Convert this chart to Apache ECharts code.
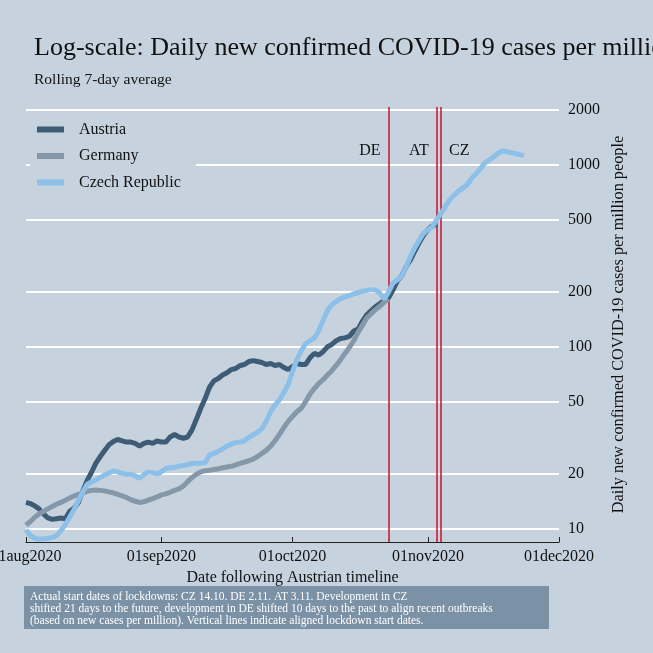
<!DOCTYPE html>
<html><head><meta charset="utf-8">
<script src="https://cdn.jsdelivr.net/npm/echarts@6/dist/echarts.min.js"></script>
<style>html,body{margin:0;padding:0;background:#c6d3df}#c{width:653px;height:653px}</style>
</head><body><div id="c"></div>
<script>
// Daily values (rolling 7-day avg), first value = 01aug2020
const startDate = '2020-08-01';
const austria = [14.0,13.8,13.4,12.9,12.1,11.5,11.3,11.4,11.5,11.4,
  12.5,13.0,14.0,16.2,18.5,20.5,23,25,27,29,
  30.2,31,30.5,30,30,29.5,28.5,29.5,30,29.5,
  30.5,30,30,32,33,32,31.5,32,35,40,
  46,52,60,65,67,70,72,75,76,79,
  80,83,84,83,82,80,81,79,80,77,
  75,78,81,80,80,87,92,90,94,100,
  103,108,111,112,114,122,125,138,150,158,
  166,173,180,186,205,230,245,275,300,335,
  372,410,440,460,470];
const germany = [10.5,11.0,11.6,12.1,12.5,12.9,13.3,13.7,14.0,14.4,
  14.8,15.2,15.5,15.8,16.1,16.3,16.4,16.3,16.2,16.0,
  15.8,15.5,15.2,14.9,14.5,14.2,14.0,14.1,14.4,14.7,
  15.0,15.4,15.6,15.9,16.3,16.6,17.2,18.2,19.2,20.0,
  20.6,20.9,21.0,21.2,21.4,21.7,21.9,22.1,22.5,22.9,
  23.3,23.7,24.2,25.0,26.0,27.0,28.5,30.5,33,36,
  39,41.5,44,46,50,55,59,63,66,70,
  74,79,85,92,99,108,120,131,144,152,
  160,167,176,183];
const czech = [9.9,9.2,8.9,8.8,8.85,8.9,9.0,9.2,9.8,10.6,
  11.6,12.8,14.3,16.0,17.6,18.1,18.6,19.2,19.8,20.3,
  20.8,20.6,20.2,20.0,20.0,19.6,19.0,19.9,20.6,20.4,
  20.1,20.6,21.5,21.7,21.8,22.1,22.3,22.6,22.9,23.0,
  23.0,23.1,25.5,26.0,26.7,27.5,28.5,29.3,29.8,30.0,
  30.5,31.8,32.9,34,35.5,39,44,48,51,56,
  62,73,85,95,104,108,112,122,140,158,
  170,177,184,188,191,195,198,202,204,206,
  205,197,183,200,224,233,244,275,313,350,
  385,420,440,455,497,540,590,640,680,715,
  745,775,840,890,950,1018,1060,1100,1150,1187,
  1180,1160,1150,1135,1120];
const seriesNames = ['Austria','Germany','Czech Republic'];
const xTickDates = ['2020-08-01','2020-09-01','2020-10-01','2020-11-01','2020-12-01'];
const yTickValues = [10,20,50,100,200,500,1000,2000];
const lockdownNames = ['DE','AT','CZ'];
const lockdownDates = ['2020-10-23','2020-11-03','2020-11-04'];
const lockdownLabelSide = ['left','left','right'];

const titleText = 'Log-scale: Daily new confirmed COVID-19 cases per million people';
const subtitleText = 'Rolling 7-day average';
const xName = 'Date following Austrian timeline';
const yName = 'Daily new confirmed COVID-19 cases per million people';
const noteLines = ['Actual start dates of lockdowns: CZ 14.10. DE 2.11. AT 3.11. Development in CZ',
  'shifted 21 days to the future, development in DE shifted 10 days to the past to align recent outbreaks',
  '(based on new cases per million). Vertical lines indicate aligned lockdown start dates.'];

const FONT = 'Liberation Serif';
const colors = ['#3e5c76','#8498aa','#8dc0e8'];
const DAY = 86400000;
function ts(s){const p=s.split('-').map(Number);return Date.UTC(p[0],p[1]-1,p[2]);}
const t0 = ts(startDate);
function dayIdx(s){return Math.round((ts(s)-t0)/DAY);}
function toPairs(arr){return arr.map((v,i)=>[i,v]);}
const months=['jan','feb','mar','apr','may','jun','jul','aug','sep','oct','nov','dec'];
function fmtDay(v){const d=new Date(t0+Math.round(v)*DAY);const dd=d.getUTCDate();return (dd<10?'0':'')+dd+months[d.getUTCMonth()]+d.getUTCFullYear();}
const xTicks = xTickDates.map(dayIdx);

const chart = echarts.init(document.getElementById('c'), null, {renderer:'canvas'});
const dataSets=[austria,germany,czech];
const series = dataSets.map((arr,i)=>({
  name: seriesNames[i], type:'line', data: toPairs(arr), showSymbol:false, symbol:'none',
  lineStyle:{width:5,color:colors[i]}, itemStyle:{color:colors[i]}, z:3, silent:true, animation:false
}));
series.push({
  type:'line', data:[], silent:true, animation:false,
  markLine:{symbol:'none', silent:true, z:1, animation:false, label:{show:false},
    lineStyle:{color:'#c8102e', width:1.5, type:'solid'},
    data: lockdownDates.map(d=>({xAxis: dayIdx(d)}))},
  markPoint:{symbol:'circle', symbolSize:0, silent:true, animation:false,
    data: lockdownDates.map((d,i)=>({coord:[dayIdx(d),1190], value:lockdownNames[i],
      label:{show:true, position:lockdownLabelSide[i], distance:8, formatter:lockdownNames[i],
        fontFamily:FONT, fontSize:16, color:'#111'}}))}
});

chart.setOption({
  backgroundColor:'#c6d3df',
  animation:false,
  title:[
    {text:titleText, left:34, top:35, padding:0, textStyle:{fontFamily:FONT,fontSize:26,fontWeight:'normal',color:'#111'}},
    {text:subtitleText, left:34, top:72, padding:0, textStyle:{fontFamily:FONT,fontSize:15.5,fontWeight:'normal',color:'#111'}}
  ],
  legend:{data:seriesNames, orient:'vertical', left:30, top:114.5, icon:'rect', itemWidth:27, itemHeight:6,
    itemGap:10.5, padding:[7,15,26,7], backgroundColor:'#c6d3df',
    textStyle:{fontFamily:FONT,fontSize:16,color:'#111',padding:[0,0,0,10]}},
  grid:{left:26,right:94,top:107,bottom:111,containLabel:false,outerBoundsMode:'none'},
  xAxis:{type:'value', min:xTicks[0], max:xTicks[xTicks.length-1],
    axisLine:{show:true,lineStyle:{color:'#222',width:1}},
    axisTick:{show:true,inside:true,length:5,lineStyle:{color:'#222'},customValues:xTicks},
    axisLabel:{customValues:xTicks,formatter:fmtDay,fontFamily:FONT,fontSize:16,color:'#111',margin:7,hideOverlap:false,showMinLabel:true,showMaxLabel:true},
    splitLine:{show:false},
    name:xName, nameLocation:'middle', nameGap:19,
    nameTextStyle:{fontFamily:FONT,fontSize:16,color:'#111'}},
  yAxis:{type:'log', logBase:10, min:8.49, max:2070, position:'right',
    axisLine:{show:false}, axisTick:{show:false,customValues:yTickValues},
    axisLabel:{customValues:yTickValues,formatter:v=>String(Math.round(v)),fontFamily:FONT,fontSize:16,color:'#111',margin:9},
    splitLine:{show:true,lineStyle:{color:'#ffffff',width:2}},
    name:yName, nameLocation:'middle', nameRotate:90, nameGap:46.5,
    nameTextStyle:{fontFamily:FONT,fontSize:16.3,color:'#111'}},
  graphic:[
    {type:'rect', left:24, top:586, shape:{width:525,height:43}, style:{fill:'#7b91a6'}, silent:true},
    {type:'text', left:30, top:591, style:{text:noteLines.join('\n'), fill:'#ffffff', font:'11.5px "Liberation Serif"', lineHeight:12}, silent:true}
  ],
  series: series
});
</script></body></html>
